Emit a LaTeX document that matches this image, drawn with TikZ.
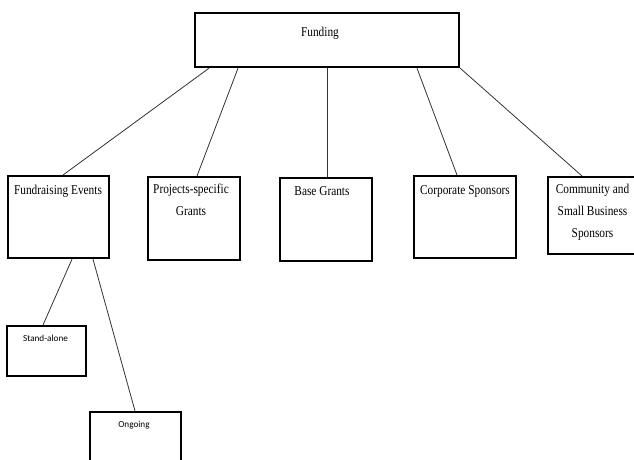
\documentclass[tikz,border=0pt]{standalone}
\usepackage{fontspec}
\setmainfont{Liberation Serif}[FakeStretch=0.84]
\newfontfamily\smallsans{Carlito}
\usetikzlibrary{calc}
\tikzset{
  box/.style={draw=black, line width=2.2pt, fill=white, inner sep=0pt, anchor=north west},
  lbl/.style={font=\fontsize{13.5}{22}\selectfont, align=center, inner sep=0pt, anchor=center},
  slbl/.style={font=\smallsans\fontsize{9.2}{11}\selectfont, inner sep=0pt, anchor=center},
  conn/.style={draw=black!80, line width=0.8pt}
}
\begin{document}
\begin{tikzpicture}[x=1pt,y=-1pt]
\useasboundingbox (0,0) rectangle (634,459);
\clip (0,0) rectangle (634,459);
\fill[white] (0,0) rectangle (634,459);
% boxes
\node[box, minimum width=264pt, minimum height=54pt] (fund) at (194,12) {};
\node[box, minimum width=101pt, minimum height=82pt] (fe) at (7,175) {};
\node[box, minimum width=92pt, minimum height=83pt] (ps) at (147,176) {};
\node[box, minimum width=92pt, minimum height=83pt] (bg) at (279,177) {};
\node[box, minimum width=102pt, minimum height=82pt] (cs) at (413,175) {};
\node[box, minimum width=95pt, minimum height=77pt] (cm) at (547,176) {};
\node[box, minimum width=79pt, minimum height=50pt] (sa) at (6,325) {};
\node[box, minimum width=91pt, minimum height=70pt] (og) at (89,411) {};
% labels
\node[lbl] (tfund) at (320,33) {Funding};
\node[lbl] (tfe) at (58,191) {Fundraising Events};
\node[lbl, anchor=north] (tps) at (191,184) {Projects-specific\\Grants};
\node[lbl] (tbg) at (322,191) {Base Grants};
\node[lbl] (tcs) at (465,191) {Corporate Sponsors};
\node[lbl, anchor=north] (tcm) at (592.5,184) {Community and\\Small Business\\Sponsors};
\node[slbl] (tsa) at (45.5,338) {Stand-alone};
\node[slbl] (tog) at (134,425) {Ongoing};
% connectors
\draw[conn] ($(fund.south west)+(15,0)$) -- ($(fe.north west)+(56,0)$);
\draw[conn] ($(fund.south west)+(44,0)$) -- ($(ps.north west)+(50,0)$);
\draw[conn] ($(fund.south west)+(133,0)$) -- ($(bg.north west)+(48,0)$);
\draw[conn] ($(fund.south west)+(223,0)$) -- ($(cs.north west)+(44,0)$);
\draw[conn] (fund.south east) -- ($(cm.north west)+(35,0)$);
\draw[conn] ($(fe.south west)+(65,0)$) -- ($(sa.north west)+(37,0)$);
\draw[conn] ($(fe.south west)+(86,0)$) -- ($(og.north west)+(46,0)$);
\end{tikzpicture}
\end{document}
